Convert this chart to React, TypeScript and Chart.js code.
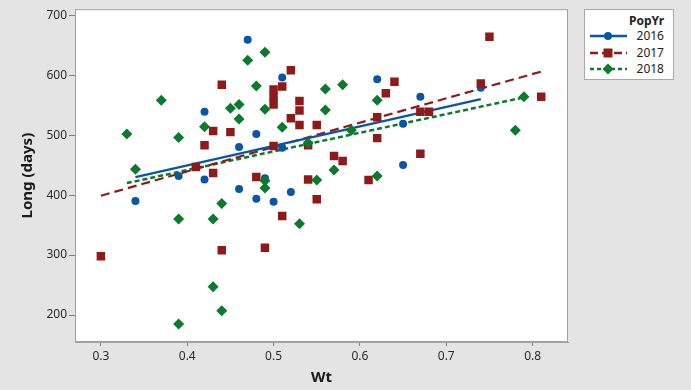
import React, { useEffect, useRef } from "react";
import { Chart, registerables } from "chart.js";

Chart.register(...registerables);

// ---- data ----
const wt2016 = [0.47, 0.51, 0.62, 0.42, 0.48, 0.46, 0.51, 0.39, 0.42, 0.46, 0.34, 0.49, 0.48, 0.50, 0.52, 0.74, 0.67, 0.65, 0.65];
const long2016 = [659, 596, 593, 539, 502, 480, 479, 432, 426, 410, 390, 428, 394, 389, 405, 579, 564, 519, 450];

const wt2017 = [0.44, 0.43, 0.45, 0.42, 0.41, 0.43, 0.44, 0.30, 0.52, 0.51, 0.50, 0.50, 0.50, 0.64, 0.63, 0.53, 0.53, 0.52, 0.53, 0.55, 0.50, 0.54, 0.62, 0.62, 0.57, 0.58, 0.48, 0.54, 0.61, 0.55, 0.51, 0.49, 0.75, 0.74, 0.81, 0.67, 0.68, 0.67];
const long2017 = [584, 507, 505, 483, 447, 437, 308, 298, 608, 581, 576, 563, 551, 589, 570, 557, 541, 528, 517, 517, 482, 483, 530, 495, 465, 457, 430, 426, 425, 393, 365, 312, 664, 586, 564, 539, 539, 469];

const wt2018 = [0.37, 0.45, 0.46, 0.46, 0.42, 0.33, 0.39, 0.34, 0.44, 0.39, 0.43, 0.43, 0.44, 0.39, 0.49, 0.47, 0.48, 0.56, 0.58, 0.62, 0.49, 0.56, 0.51, 0.54, 0.59, 0.57, 0.49, 0.49, 0.55, 0.62, 0.53, 0.79, 0.78];
const long2018 = [558, 545, 551, 527, 514, 502, 496, 443, 386, 360, 360, 247, 207, 185, 638, 625, 582, 577, 584, 558, 543, 542, 513, 487, 508, 442, 424, 412, 425, 432, 352, 564, 508];

// fitted regression line end points
const fitWt2016 = [0.34, 0.74];
const fitLong2016 = [430, 560];
const fitWt2017 = [0.30, 0.81];
const fitLong2017 = [399, 606];
const fitWt2018 = [0.33, 0.79];
const fitLong2018 = [420, 563];

const xTicks = [0.3, 0.4, 0.5, 0.6, 0.7, 0.8];
const yTicks = [200, 300, 400, 500, 600, 700];
const groups = ["2016", "2017", "2018"];
const legendTitle = "PopYr";
const xTitle = "Wt";
const yTitle = "Long (days)";

const BLUE = "#0b56a4";
const RED = "#8e1a1a";
const GREEN = "#0b7a2c";
const FONT = "'Noto Sans', sans-serif";

const pts = (xs: number[], ys: number[]) => xs.map((x, i) => ({ x, y: ys[i] }));

export default function App() {
  const ref = useRef<HTMLCanvasElement | null>(null);

  useEffect(() => {
    if (!ref.current) return;
    const frame = {
      id: "frame",
      afterDatasetsDraw(chart: any) {
        const { ctx, chartArea: a } = chart;
        ctx.save();
        ctx.strokeStyle = "#a0a0a0";
        ctx.lineWidth = 1;
        ctx.strokeRect(a.left + 0.5, a.top + 0.5, a.right - a.left - 1, a.bottom - a.top - 1);
        ctx.restore();
      },
      beforeDraw(chart: any) {
        const { ctx, chartArea: a } = chart;
        ctx.save();
        ctx.fillStyle = "#ffffff";
        ctx.fillRect(a.left, a.top, a.right - a.left, a.bottom - a.top);
        ctx.restore();
      },
    };
    const chart = new Chart(ref.current, {
      type: "scatter",
      data: {
        datasets: [
          { label: "2018", data: pts(wt2018, long2018), pointStyle: "rectRot", pointRadius: 5.5, backgroundColor: GREEN, borderColor: GREEN, borderWidth: 0, showLine: false, order: 1 },
          { label: "2017", data: pts(wt2017, long2017), pointStyle: "rect", pointRadius: 6, backgroundColor: RED, borderColor: RED, borderWidth: 0, showLine: false, order: 2 },
          { label: "2016", data: pts(wt2016, long2016), pointStyle: "circle", pointRadius: 4, backgroundColor: BLUE, borderColor: BLUE, borderWidth: 0, showLine: false, order: 3 },
          { label: "fit2016", data: pts(fitWt2016, fitLong2016), showLine: true, pointRadius: 0, borderColor: BLUE, borderWidth: 2.5, order: 4 },
          { label: "fit2017", data: pts(fitWt2017, fitLong2017), showLine: true, pointRadius: 0, borderColor: RED, borderWidth: 2.2, borderDash: [9, 5], order: 5 },
          { label: "fit2018", data: pts(fitWt2018, fitLong2018), showLine: true, pointRadius: 0, borderColor: GREEN, borderWidth: 2.5, borderDash: [5, 3], order: 6 },
        ] as any,
      },
      options: {
        animation: false,
        responsive: false,
        layout: { padding: { top: 9, right: 123, left: 0, bottom: 0 } },
        plugins: { legend: { display: false }, tooltip: { enabled: false } },
        scales: {
          x: {
            type: "linear",
            min: 0.27,
            max: 0.841,
            afterBuildTicks: (s: any) => { s.ticks = xTicks.map((v) => ({ value: v })); },
            afterFit: (s: any) => { s.height = 48; },
            grid: { drawOnChartArea: false, drawTicks: true, tickLength: 4, color: "#808080" },
            border: { display: true, color: "#a0a0a0" },
            ticks: { color: "#2a2a2a", font: { family: FONT, size: 12 }, padding: 3, callback: (v: any) => String(v) },
            title: { display: true, text: xTitle, color: "#1a1a1a", font: { family: FONT, size: 15, weight: "bold" }, padding: { top: 0, bottom: 3 } },
          },
          y: {
            type: "linear",
            min: 155,
            max: 710,
            afterBuildTicks: (s: any) => { s.ticks = yTicks.map((v) => ({ value: v })); },
            afterFit: (s: any) => { s.width = 75; },
            grid: { drawOnChartArea: false, drawTicks: true, tickLength: 6, color: "#808080" },
            border: { display: true, color: "#a0a0a0" },
            ticks: { color: "#2a2a2a", font: { family: FONT, size: 12 }, padding: 2 },
            title: { display: true, text: yTitle, color: "#1a1a1a", font: { family: FONT, size: 15, weight: "bold" }, padding: { top: 19, bottom: 0 } },
          },
        },
      },
      plugins: [frame],
    });
    return () => chart.destroy();
  }, []);

  const colors = [BLUE, RED, GREEN];
  const dashes = ["", "8 4", "4 3"];
  const rowY = [35, 52, 68];

  const marker = (i: number) => {
    if (i === 0) return <circle cx={18} cy={6} r={4} fill={BLUE} />;
    if (i === 1) return <rect x={13.5} y={1.5} width={9} height={9} fill={RED} />;
    return <polygon points="18,0.5 23.5,6 18,11.5 12.5,6" fill={GREEN} />;
  };

  return (
    <div style={{ position: "absolute", left: 0, top: 0, width: 691, height: 390, background: "#e4e4e4", overflow: "hidden" }}>
      <canvas ref={ref} width={691} height={390} style={{ position: "absolute", left: 0, top: 0, width: 691, height: 390 }} />
      <div style={{ position: "absolute", left: 584, top: 9, width: 88, height: 69, background: "#fff", border: "1px solid #a8a8a8", fontFamily: FONT, color: "#222" }}>
        <div style={{ position: "absolute", right: 9, top: 3, fontSize: 12, fontWeight: "bold", lineHeight: "16px" }}>{legendTitle}</div>
        {groups.map((g, i) => (
          <div key={g}>
            <svg width={37} height={12} style={{ position: "absolute", left: 5, top: rowY[i] - 9 - 6 }}>
              <line x1={0} y1={6} x2={37} y2={6} stroke={colors[i]} strokeWidth={2.5} strokeDasharray={dashes[i] || undefined} />
              {marker(i)}
            </svg>
            <div style={{ position: "absolute", right: 9, top: rowY[i] - 9 - 8, fontSize: 12, lineHeight: "16px" }}>{g}</div>
          </div>
        ))}
      </div>
    </div>
  );
}
